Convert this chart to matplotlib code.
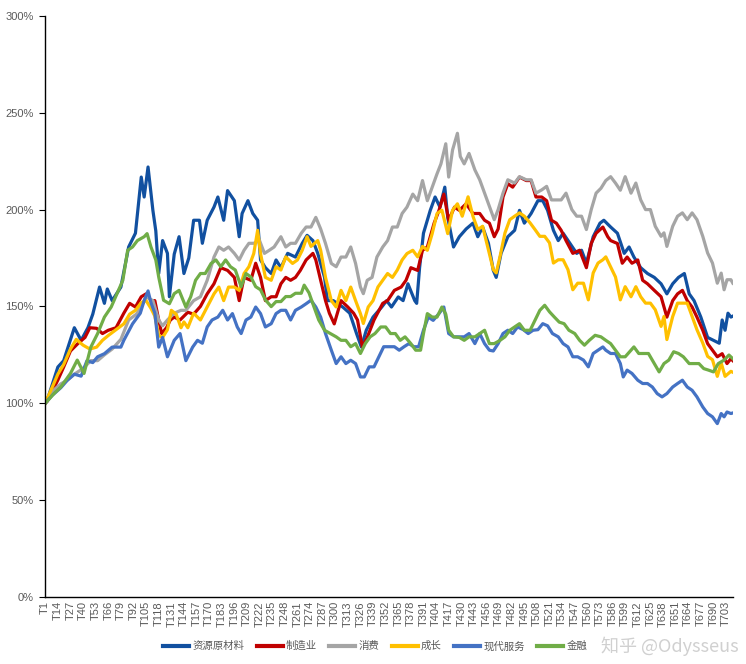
import matplotlib
matplotlib.use("Agg")
import matplotlib.pyplot as plt

plt.rcParams['font.family'] = ['Liberation Sans', 'Noto Sans CJK SC', 'DejaVu Sans']

# series: (T index, cumulative value in %)
res_t = [1, 3, 14, 20, 31, 38, 45, 50, 57, 62, 65, 70, 79, 87, 94, 100, 103, 107, 112, 115, 118, 122, 127, 129,
         134, 139, 144, 149, 154, 160, 163, 168, 175, 179, 185, 189, 196, 201, 204, 210, 215, 220, 223, 228, 234,
         239, 244, 251, 259, 266, 271, 277, 282, 289, 292, 298, 308, 315, 322, 327, 332, 339, 348, 353, 358, 365,
         370, 375, 382, 384, 387, 391, 398, 403, 408, 413, 416, 422, 428, 435, 442, 447, 452, 458, 463, 466, 471,
         478, 485, 490, 495, 502, 509, 514, 519, 525, 530, 535, 542, 549, 554, 559, 566, 573, 577, 584, 591, 598,
         603, 608, 615, 622, 629, 636, 642, 648, 654, 660, 665, 670, 677, 684, 690, 696, 699, 702, 705, 708, 710]
res_v = [100, 101.5, 118.7, 122, 139, 132.5, 139, 146, 160, 151.6, 159, 153, 160, 180.7, 187.8, 216.8, 206.5, 222,
         199.6, 189, 167, 184, 177.4, 155, 177, 186, 167, 175, 194.5, 194.5, 182.6, 194.5, 201.3, 206.5, 194.5,
         209.8, 204.6, 186, 198, 204.6, 198, 194.5, 174, 170, 167, 174, 170, 177.4, 175.5, 182.6, 186.7, 184,
         177.4, 165, 153, 153, 149.6, 146.5, 136, 129, 137.7, 144.5, 149.7, 153, 149.7, 154.9, 153, 161.7, 153,
         151.6, 170, 187.8, 199.6, 206.5, 201.3, 211.6, 196, 180.7, 186, 190, 193, 186, 191, 182.6, 168.6, 165,
         177.4, 186, 189.3, 199.6, 193, 198, 204.6, 204.6, 199.6, 189.3, 184, 187.8, 182.6, 177.4, 179, 172.3,
         186, 193, 194.5, 191, 187.8, 177.4, 180.7, 175.5, 170, 167, 165, 161.7, 156.5, 161.7, 165, 167, 156.5,
         153, 144.5, 134, 132.5, 131, 143, 137.7, 146.5, 144.5, 145]

mfg_t = [1, 3, 14, 20, 27, 35, 42, 47, 54, 60, 66, 74, 82, 88, 94, 100, 105, 110, 114, 118, 121, 126, 130, 134,
         140, 148, 154, 161, 168, 175, 182, 189, 196, 201, 206, 213, 218, 223, 228, 234, 239, 244, 249, 254, 259,
         264, 270, 277, 280, 285, 290, 294, 299, 306, 313, 319, 323, 328, 333, 340, 349, 354, 361, 368, 373, 378,
         385, 390, 395, 402, 407, 412, 417, 423, 428, 435, 442, 449, 454, 459, 464, 468, 473, 478, 483, 490, 497,
         502, 507, 513, 518, 523, 528, 533, 538, 545, 552, 559, 564, 569, 576, 581, 584, 591, 596, 601, 606, 612,
         617, 622, 629, 636, 642, 648, 653, 658, 663, 668, 673, 679, 684, 689, 694, 699, 704, 708, 710]
mfg_v = [100, 101, 112, 118.7, 127, 131, 134, 139, 138.7, 136, 137.7, 139, 146.5, 151.6, 149.7, 155, 156.5, 153,
         153, 143, 136, 139, 143, 144.5, 143, 147, 146, 150, 156.5, 161.7, 170, 168.6, 165, 153, 165, 163.5,
         172.3, 165, 153, 155, 155, 161.7, 165, 163.5, 165, 168.6, 174, 177.4, 174, 163.5, 153, 146.5, 141, 153,
         149.7, 146.5, 143, 129, 134, 143, 151.6, 153, 158.3, 160, 163.5, 170, 168.6, 179, 180.7, 193, 199.6, 208,
         194.5, 201.3, 199.6, 203, 198, 198, 194.5, 193, 186, 190, 206.5, 213.4, 211.6, 216.8, 215, 215, 206.5,
         206.5, 204.6, 194.5, 193, 189.3, 184, 177.4, 179, 170, 182.6, 187.8, 191, 186, 184, 182.5, 172.3, 175.5,
         172.3, 174, 163.5, 161.7, 158.3, 155, 144.5, 153, 156.5, 158.3, 153, 149.7, 144.5, 137.7, 130.8, 127.4,
         124, 125.6, 120.5, 123, 122]

con_t = [1, 8, 17, 24, 31, 40, 48, 55, 62, 70, 79, 87, 95, 100, 105, 112, 118, 122, 127, 134, 141, 146, 154, 161,
         168, 175, 180, 185, 190, 196, 201, 206, 211, 216, 222, 227, 232, 237, 244, 249, 254, 259, 265, 270, 275,
         280, 285, 290, 296, 301, 306, 311, 316, 321, 326, 329, 333, 338, 343, 349, 354, 359, 364, 369, 374, 380,
         385, 390, 395, 400, 405, 409, 414, 417, 421, 426, 429, 433, 438, 444, 449, 454, 459, 464, 468, 473, 478,
         485, 490, 497, 502, 507, 513, 518, 523, 528, 533, 538, 544, 549, 554, 559, 564, 569, 574, 579, 584, 589,
         594, 599, 605, 610, 615, 620, 625, 630, 636, 639, 642, 648, 653, 658, 663, 668, 673, 679, 684, 689, 694,
         698, 701, 704, 708, 710]
con_v = [100, 106, 110, 112, 115, 118, 122, 122, 125, 128, 133, 143, 146, 150, 155, 153, 143, 140, 143, 146.5, 148,
         148, 153, 155, 163.5, 175.5, 180.7, 179, 180.7, 177.4, 174, 179, 182.6, 182.6, 184, 177.4, 179, 180.7,
         186, 180.7, 182.6, 182.6, 187.8, 191, 191, 196, 190, 182.5, 172.2, 170.5, 175.5, 175.5, 180.7, 172.2, 160,
         156.6, 163.5, 165, 175.5, 180.7, 184, 191, 191, 198, 201.3, 208, 204.6, 215, 204.6, 211.6, 218.5, 223.6,
         234, 216.8, 230.8, 239.4, 227.4, 223.6, 229, 220.5, 215.4, 208.5, 201.7, 194.8, 200, 208.5, 215.4, 213.7,
         217, 215.4, 215.4, 208.5, 210.2, 212, 205, 205, 205, 208.5, 200, 196.6, 196.6, 189.7, 200, 208.5, 211,
         215, 217, 213.7, 210, 217, 208.5, 213.7, 205, 200, 200, 191.4, 186.2, 188, 181, 191.4, 196.6, 198.3,
         194.8, 198.3, 194.8, 186.2, 177.6, 172.4, 162, 167.2, 158.6, 163.8, 163.8, 162]

gro_t = [1, 14, 20, 27, 33, 40, 47, 54, 60, 66, 74, 82, 88, 94, 100, 105, 110, 114, 118, 122, 127, 131, 136, 141,
         144, 148, 154, 161, 168, 175, 180, 185, 190, 196, 201, 206, 211, 216, 220, 223, 228, 234, 239, 244, 249,
         256, 261, 266, 271, 275, 282, 285, 290, 296, 301, 306, 311, 316, 321, 326, 329, 334, 339, 344, 349, 354,
         359, 364, 369, 374, 380, 385, 390, 395, 400, 405, 410, 416, 421, 426, 431, 437, 442, 447, 452, 458, 463,
         466, 470, 475, 480, 485, 490, 495, 501, 506, 511, 516, 521, 525, 530, 535, 540, 545, 550, 556, 561, 566,
         571, 576, 579, 584, 589, 594, 599, 605, 610, 615, 620, 625, 630, 636, 639, 642, 648, 653, 658, 663, 668,
         673, 679, 684, 689, 694, 698, 702, 708, 710]
gro_v = [100, 115, 120, 128, 133, 130, 128, 129, 132.5, 135, 138, 141, 146, 148, 152, 153, 149, 145, 135, 134, 138,
         148, 146, 139, 142, 139, 146.5, 143, 149.7, 156.5, 160, 153, 160, 160, 158.3, 167, 170.5, 177.3, 189.3,
         177.3, 165, 163.5, 170.5, 168.8, 175.6, 172.2, 174, 179, 186, 181, 184, 179, 165, 153, 149.7, 158.3, 153,
         160, 153, 146.3, 141.2, 149.7, 153, 160, 163.5, 167, 165, 168.8, 174, 177.3, 179, 175.6, 181, 179, 187.6,
         198, 199.7, 187.6, 199.7, 203, 196.6, 206.6, 196.6, 189.7, 191.4, 179.3, 169, 167.3, 175.9, 187.9, 194.8,
         196.6, 198.3, 196.6, 193.1, 189.7, 186.2, 186.2, 182.8, 172.4, 174.1, 174.1, 169, 158.6, 162, 162, 153.4,
         167.3, 172.4, 174.1, 175.6, 170.4, 165.2, 153.4, 160.2, 155, 160.2, 155, 151.7, 151.7, 148.3, 139.7,
         144.8, 132.9, 144.8, 151.7, 151.7, 151.7, 144.8, 138, 131.1, 124.2, 122.5, 113.9, 120.8, 113.9, 116.5, 116]

svc_t = [1, 8, 17, 24, 31, 38, 44, 50, 55, 62, 70, 79, 82, 91, 99, 103, 107, 110, 114, 118, 122, 127, 134, 140,
         146, 153, 158, 163, 168, 173, 179, 184, 189, 194, 199, 203, 208, 213, 218, 223, 228, 234, 239, 244, 249,
         254, 259, 265, 270, 275, 280, 285, 290, 296, 301, 306, 311, 316, 321, 326, 330, 335, 340, 345, 350, 355,
         361, 366, 371, 376, 381, 386, 391, 396, 401, 407, 412, 417, 422, 428, 433, 438, 444, 449, 454, 459, 463,
         468, 473, 478, 483, 488, 494, 499, 504, 509, 514, 519, 524, 530, 535, 540, 545, 550, 556, 561, 566, 571,
         576, 579, 584, 589, 594, 597, 601, 606, 612, 617, 622, 627, 632, 637, 642, 648, 653, 658, 663, 668, 673,
         679, 684, 689, 694, 698, 701, 704, 708, 710]
svc_v = [100, 104, 108, 112, 115, 114, 122, 121, 124, 125.6, 129, 129, 132.5, 141, 146.5, 153, 158, 152, 146.5,
         129, 134, 124, 132.5, 136, 122, 129, 132.5, 131, 139.4, 143, 144.5, 148, 143, 146.3, 139.4, 136, 143,
         144.5, 149.7, 146.3, 139.4, 141.1, 146.3, 148, 148, 143, 148, 149.7, 151.4, 153.2, 149.7, 144.5, 136,
         127.4, 120.5, 124, 120.5, 122.2, 120.5, 113.6, 113.6, 118.8, 118.8, 124, 129.2, 129.2, 129.2, 127.4,
         129.2, 130.8, 129.2, 129.2, 137.7, 144.5, 142.8, 146.3, 149.7, 136, 134.3, 134.3, 134.3, 136, 130.8, 136,
         130.8, 127.4, 127, 130.8, 136, 137.7, 136, 139.4, 138, 136, 137.7, 138, 141.1, 140, 136, 134.3, 130.8,
         129.1, 124, 124, 122.3, 118.8, 125.7, 127.4, 129.1, 127.4, 125.7, 125.7, 120.5, 113.6, 117.1, 115.4,
         111.9, 110.2, 110.2, 108.4, 105, 103.3, 105, 108.4, 110.2, 111.9, 108.4, 106.7, 103.3, 98.1, 94.7, 93,
         89.5, 94.7, 93, 95.5, 94.7, 95]

fin_t = [1, 10, 17, 27, 34, 41, 48, 55, 62, 69, 75, 81, 86, 91, 96, 103, 106, 110, 115, 118, 123, 129, 134, 139,
         146, 151, 156, 161, 166, 172, 177, 182, 187, 192, 197, 203, 208, 213, 218, 223, 228, 234, 239, 244, 249,
         254, 259, 265, 268, 273, 278, 283, 289, 295, 301, 306, 311, 316, 321, 326, 331, 336, 341, 347, 352, 357,
         362, 367, 372, 378, 383, 388, 391, 395, 400, 405, 410, 414, 417, 422, 428, 433, 438, 444, 449, 454, 459,
         464, 470, 475, 480, 485, 490, 495, 501, 506, 511, 516, 521, 526, 531, 536, 541, 547, 552, 557, 562, 568,
         574, 579, 584, 589, 594, 599, 605, 608, 613, 618, 623, 629, 634, 639, 644, 649, 654, 659, 665, 670, 675,
         680, 685, 690, 695, 701, 706, 710]
fin_v = [100, 105, 108.4, 115.4, 122.3, 115.4, 129, 136, 144.5, 149.7, 156.6, 163.5, 179, 180.7, 184, 186, 187.6,
         180.7, 174, 165.2, 153.2, 151.4, 156.6, 158.3, 149.7, 155, 163.5, 167, 167, 172.2, 174, 170.5, 174, 170.5,
         168.8, 160.2, 167, 165.2, 160.2, 158.6, 153.4, 149.9, 152.5, 152.5, 155.1, 155.1, 156.8, 156.8, 161, 157,
         149.9, 143, 137.7, 136, 134.3, 132.5, 132.5, 129.2, 130.8, 125.7, 130.8, 134.3, 136, 139.4, 139.4, 136,
         136, 132.5, 134.3, 130.8, 127.4, 127.4, 136, 146.3, 144.5, 144.5, 149.7, 146, 137.7, 134.3, 134, 132.5,
         134.3, 134.3, 136, 137.7, 130.8, 130.8, 132.5, 134.3, 137.7, 139.4, 141.1, 137.7, 137.7, 142.8, 148, 150.6,
         147.2, 144.5, 141.9, 141.1, 137.7, 136, 132.5, 130, 132.5, 135.1, 134.3, 132.5, 130.8, 127.4, 124, 124,
         127.4, 129.1, 125.7, 125.7, 125.7, 120.5, 116.2, 120.5, 122.3, 126.6, 125.7, 124, 120.5, 120.5, 120.5,
         117.9, 117.1, 116.2, 120.5, 122.3, 124.9, 123]

series = [
    ("资源原材料", res_t, res_v, "#1150A0"),
    ("制造业", mfg_t, mfg_v, "#C00000"),
    ("消费", con_t, con_v, "#A5A5A5"),
    ("成长", gro_t, gro_v, "#FFC000"),
    ("现代服务", svc_t, svc_v, "#4472C4"),
    ("金融", fin_t, fin_v, "#70AD47"),
]

tick_pos = list(range(1, 704, 13))
tick_labels = ["T%d" % t for t in tick_pos]
y_ticks = [0, 50, 100, 150, 200, 250, 300]

fig = plt.figure(figsize=(7.46, 6.64), dpi=100)
ax = fig.add_axes([0.060, 0.101, 0.923, 0.875])

for name, t, v, c in series:
    ax.plot(t, v, color=c, lw=2.3, label=name, solid_joinstyle='round')

ax.set_xlim(0.5, 710.5)
ax.set_ylim(0, 300)
ax.set_yticks(y_ticks)
ax.set_yticklabels(["%d%%" % y for y in y_ticks], color="#595959", fontsize=8)
ax.set_xticks(tick_pos)
ax.set_xticklabels(tick_labels, rotation=90, color="#595959", fontsize=8)
ax.tick_params(axis='x', length=0, pad=3)
ax.tick_params(axis='y', length=4, width=0.8, direction='out', pad=4)
for s in ['top', 'right']:
    ax.spines[s].set_visible(False)
for s in ['left', 'bottom']:
    ax.spines[s].set_color('black')
    ax.spines[s].set_linewidth(1.0)

leg = fig.legend(loc='center', bbox_to_anchor=(0.503, 0.027), ncol=6, frameon=False,
                 handlelength=2.5, columnspacing=1.2, handletextpad=0.3,
                 prop={'family': ['Noto Sans CJK SC'], 'size': 7.5})
for txt in leg.get_texts():
    txt.set_color('#595959')
for line in leg.get_lines():
    line.set_linewidth(3)

# watermark (placed below the tick labels, to the right of the legend)
fig.text(0.99, 0.027, "知乎 @Odysseus", ha='right', va='center', fontsize=13,
         color='#C8C8C8', alpha=0.85, family=['Noto Sans CJK SC', 'DejaVu Sans'])

fig.savefig("out.png", dpi=100)
